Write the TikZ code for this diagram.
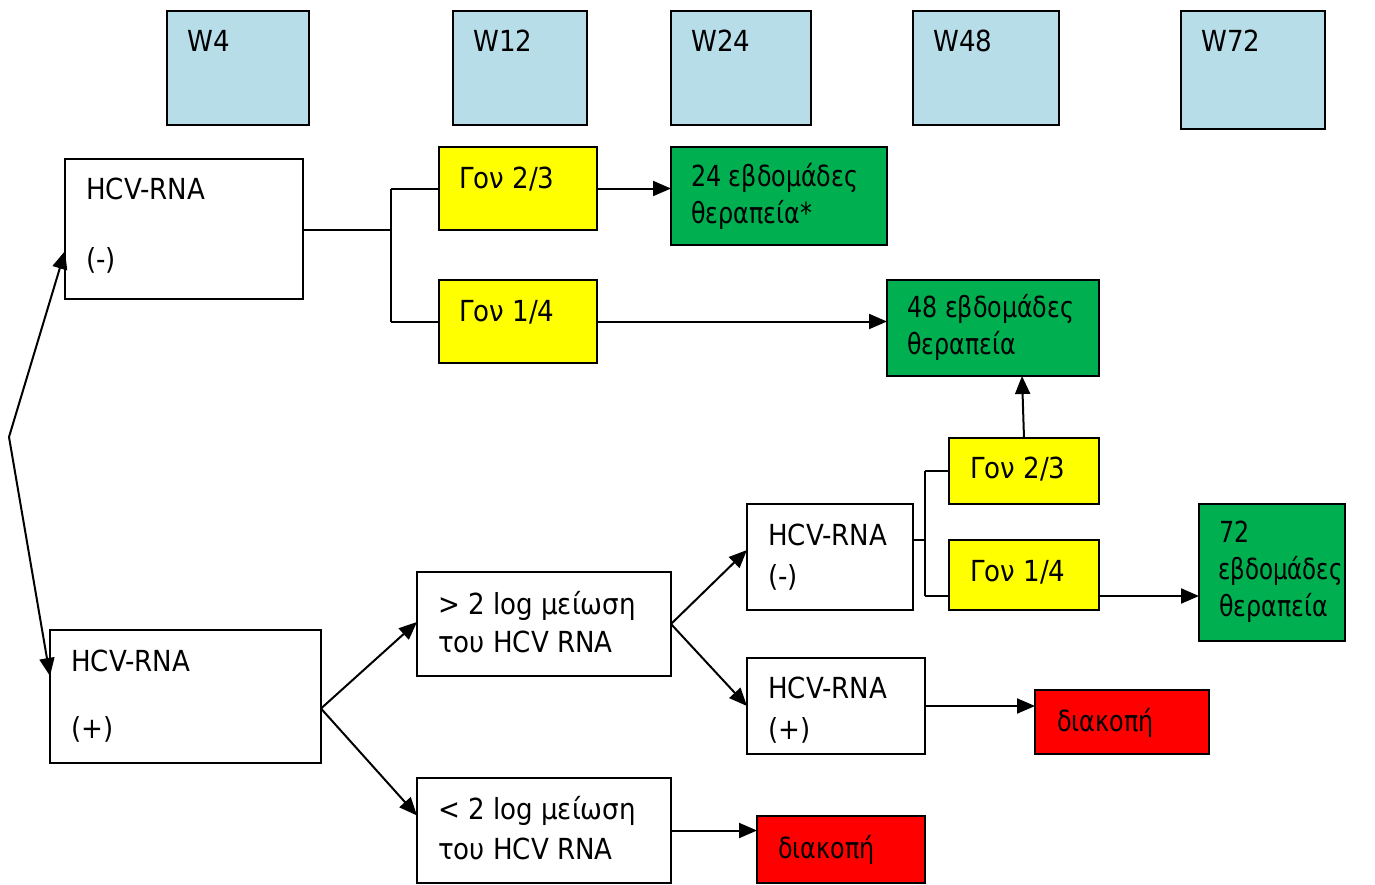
\documentclass[tikz,border=0pt]{standalone}
\usepackage{fontspec}
\setmainfont{DejaVu Sans}[FakeStretch=0.9]
\newfontfamily\grk{DejaVu Sans}[FakeStretch=0.82]
\newfontfamily\grknarrow{DejaVu Sans}[FakeStretch=0.79]
\usetikzlibrary{arrows.meta}
\definecolor{wkblue}{RGB}{183,221,232}
\definecolor{gonyellow}{RGB}{255,255,0}
\definecolor{endgreen}{RGB}{0,176,80}
\definecolor{stopred}{RGB}{255,0,0}
\tikzset{
  box/.style={draw=black, line width=1.8pt, rectangle, anchor=north west, inner sep=0pt, outer sep=0pt},
  wkbox/.style={box, fill=wkblue},
  genbox/.style={box, fill=gonyellow},
  donebox/.style={box, fill=endgreen},
  stopbox/.style={box, fill=stopred},
  plainbox/.style={box, fill=white},
  lbl/.style={anchor=base west, inner sep=0pt, font=\fontsize{29}{34}\selectfont},
  link/.style={line width=2pt},
  arr/.style={link, -{Triangle[length=18pt,width=15pt]}},
}
\newcommand\bx[6]{\node[#1, minimum width=#5pt, minimum height=#6pt] (#2) at (#3,#4) {};}
\newcommand\tx[4]{\node[lbl] (#1) at (#2,#3) {#4};}
\begin{document}
\begin{tikzpicture}[x=1pt,y=-1pt]
\useasboundingbox (0,0) rectangle (1375,884);

% week header boxes
\bx{wkbox}{w4}{167}{11}{142}{114}
\bx{wkbox}{w12}{453}{11}{134}{114}
\bx{wkbox}{w24}{671}{11}{140}{114}
\bx{wkbox}{w48}{913}{11}{146}{114}
\bx{wkbox}{w72}{1181}{11}{144}{118}
\tx{tw4}{187}{51}{W4}
\tx{tw12}{473}{51}{W12}
\tx{tw24}{691}{51}{W24}
\tx{tw48}{933}{51}{W48}
\tx{tw72}{1201}{51}{W72}

% week-4 result boxes
\bx{plainbox}{neg}{65}{159}{238}{140}
\tx{tneg1}{86}{199}{HCV-RNA}
\tx{tneg2}{86}{269}{(-)}
\bx{plainbox}{pos}{50}{630}{271}{133}
\tx{tpos1}{71}{671}{HCV-RNA}
\tx{tpos2}{71}{738}{(+)}

% genotype branch after negative result
\bx{genbox}{ga}{439}{147}{158}{83}
\tx{tga}{459}{188}{Γον 2/3}
\bx{genbox}{gb}{439}{280}{158}{83}
\tx{tgb}{459}{321}{Γον 1/4}
\bx{donebox}{d24}{671}{147}{216}{98}
\tx{td24a}{691}{186}{\grk 24 εβδομάδες}
\tx{td24b}{691}{223}{\grk θεραπεία*}
\bx{donebox}{d48}{887}{280}{212}{96}
\tx{td48a}{907}{317}{\grk 48 εβδομάδες}
\tx{td48b}{907}{354}{\grk θεραπεία}

% viral load decline after positive result
\bx{plainbox}{gt}{417}{572}{254}{104}
\tx{tgt1}{438}{614}{> 2 log μείωση}
\tx{tgt2}{438}{652}{του HCV RNA}
\bx{plainbox}{lt}{417}{778}{254}{105}
\tx{tlt1}{438}{819}{< 2 log μείωση}
\tx{tlt2}{438}{859}{του HCV RNA}
\bx{stopbox}{s1}{757}{816}{168}{67}
\tx{ts1}{778}{858}{\grk διακοπή}

% week-12 result boxes
\bx{plainbox}{hm}{747}{504}{166}{106}
\tx{thm1}{768}{545}{HCV-RNA}
\tx{thm2}{768}{586}{(-)}
\bx{plainbox}{hp}{747}{658}{178}{96}
\tx{thp1}{768}{698}{HCV-RNA}
\tx{thp2}{768}{739}{(+)}
\bx{stopbox}{s2}{1035}{690}{174}{64}
\tx{ts2}{1057}{731}{\grk διακοπή}

% genotype branch after week-12 negative result
\bx{genbox}{gc}{949}{438}{150}{66}
\tx{tgc}{970}{478}{Γον 2/3}
\bx{genbox}{gd}{949}{540}{150}{70}
\tx{tgd}{970}{581}{Γον 1/4}
\bx{donebox}{d72}{1199}{504}{146}{137}
\tx{td72a}{1219}{542}{\grk 72}
\tx{td72b}{1218}{579}{\grknarrow εβδομάδες}
\tx{td72c}{1219}{616}{\grk θεραπεία}

% connectors
\coordinate (fork) at (9,437);
\draw[arr] (fork) -- ([yshift=-92pt]neg.north west);
\draw[arr] (fork) -- ([yshift=-46pt]pos.north west);

\coordinate (ja) at (391,230);
\draw[link] (neg.east |- ja) -- (ja);
\draw[link] (ja |- ga.west) -- (ja |- gb.west);
\draw[link] (ja |- ga.west) -- (ga.west);
\draw[link] (ja |- gb.west) -- (gb.west);
\draw[arr] (ga.east) -- (d24.west |- ga.east);
\draw[arr] (gb.east) -- (d48.west |- gb.east);

\draw[arr] ([yshift=-12pt]pos.east) -- ([yshift=2pt]gt.west);
\draw[arr] ([yshift=-12pt]pos.east) -- ([yshift=15pt]lt.west);
\draw[arr] (lt.east) -- (s1.west |- lt.east);

\draw[arr] (gt.east) -- ([yshift=7pt]hm.west);
\draw[arr] (gt.east) -- (hp.west);
\draw[arr] (hp.east) -- (s2.west |- hp.east);

\coordinate (jb) at (925,540);
\draw[link] ([yshift=17pt]hm.east) -- (jb);
\draw[link] (jb |- gc.west) -- ([yshift=14pt]jb |- gd.south);
\draw[link] (jb |- gc.west) -- (gc.west);
\draw[link] ([yshift=14pt]jb |- gd.south) -- ([yshift=14pt]gd.south west);
\draw[arr] (gc.north) -- ([xshift=-2pt]gc.north |- d48.south);
\draw[arr] ([yshift=14pt]gd.south east) -- ([yshift=14pt]gd.south east -| d72.west);
\end{tikzpicture}
\end{document}
